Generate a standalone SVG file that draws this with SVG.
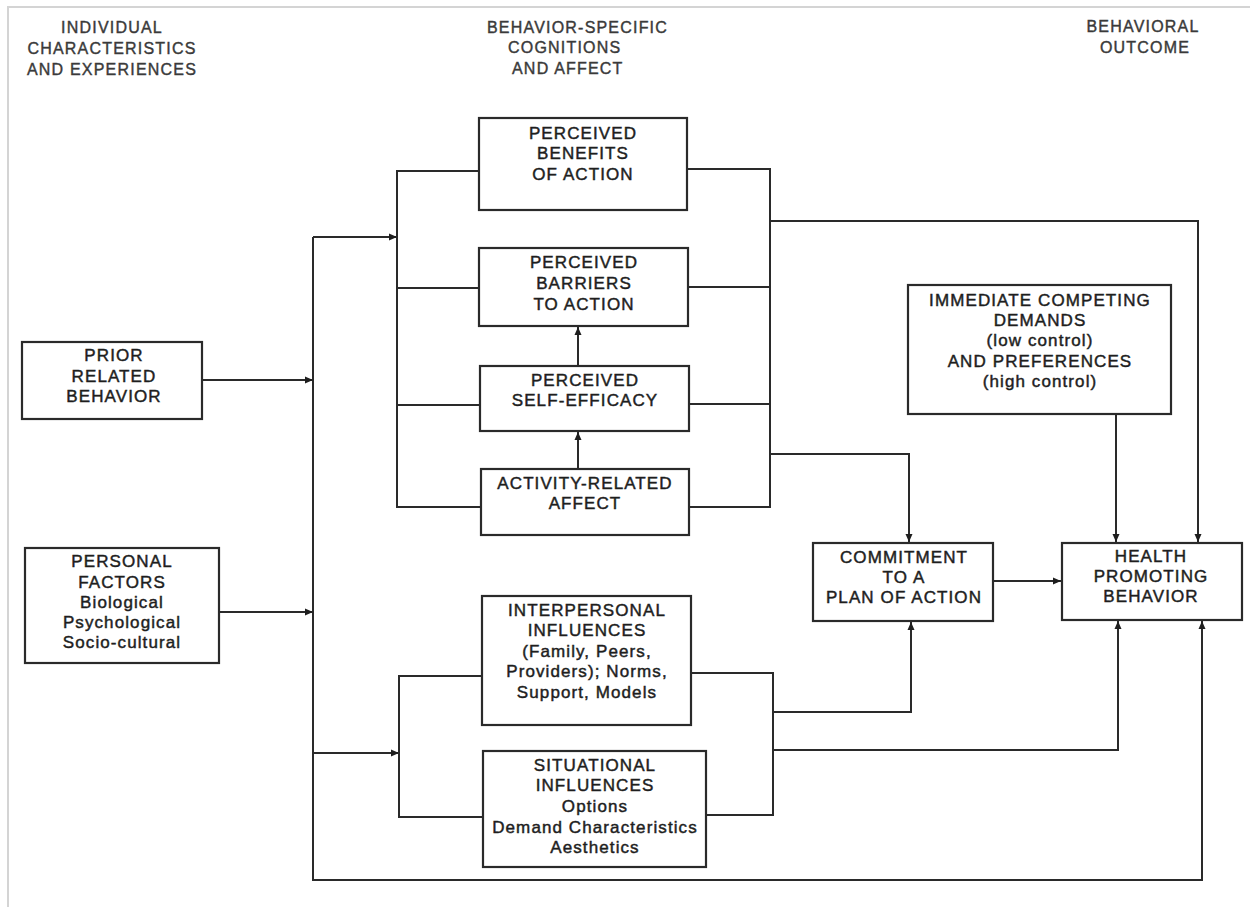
<svg xmlns="http://www.w3.org/2000/svg" width="1250" height="907" viewBox="0 0 1250 907">
<defs>
<marker id="ah" viewBox="0 0 8 8" refX="8" refY="4" markerWidth="8" markerHeight="8" markerUnits="userSpaceOnUse" orient="auto">
<path d="M0,0.5 L8,4 L0,7.5 z" fill="#1e1e1e"/>
</marker>
<style>
.bx{fill:#fff;stroke:#2a2a2a;stroke-width:2.2}
.ln{fill:none;stroke:#2a2a2a;stroke-width:2}
.ar{fill:none;stroke:#2a2a2a;stroke-width:2;marker-end:url(#ah)}
.t{font-family:"Liberation Sans",Arial,sans-serif;font-size:17px;fill:#1e1e1e;stroke:#1e1e1e;stroke-width:0.45;text-anchor:middle;letter-spacing:1.1px}
.h{font-family:"Liberation Sans",Arial,sans-serif;font-size:16px;fill:#3a3a3a;stroke:#3a3a3a;stroke-width:0.4;letter-spacing:1.2px}
.fr{fill:none;stroke:#d4d4d4;stroke-width:2}
</style>
</defs>
<rect width="1250" height="907" fill="#fff"/>
<path class="fr" d="M8,907 L8,7 L1250,7"/>

<g id="headers">
<text class="h" text-anchor="middle" x="112" y="33">INDIVIDUAL</text>
<text class="h" text-anchor="middle" x="112" y="54">CHARACTERISTICS</text>
<text class="h" text-anchor="middle" x="112" y="75">AND EXPERIENCES</text>
<text class="h" x="487" y="33">BEHAVIOR-SPECIFIC</text>
<text class="h" x="508" y="53">COGNITIONS</text>
<text class="h" x="512" y="74">AND AFFECT</text>
<text class="h" text-anchor="middle" x="1143" y="32">BEHAVIORAL</text>
<text class="h" text-anchor="middle" x="1145" y="53">OUTCOME</text>
</g>

<g id="connectors">
<path class="ln" d="M313,237 L313,880 L1202,880 L1202,628"/>
<path class="ar" d="M1202,630 L1202,621"/>
<path class="ar" d="M313,237 L397,237"/>
<path class="ar" d="M202,380 L313,380"/>
<path class="ar" d="M219,612 L313,612"/>
<path class="ar" d="M313,753 L399,753"/>
<path class="ln" d="M479,171 L397,171 L397,507 L481,507"/>
<path class="ln" d="M397,288 L479,288"/>
<path class="ln" d="M397,405 L480,405"/>
<path class="ln" d="M687,169 L770,169 L770,507 L689,507"/>
<path class="ln" d="M688,287 L770,287"/>
<path class="ln" d="M689,404 L770,404"/>
<path class="ar" d="M578,366 L578,327"/>
<path class="ar" d="M578,469 L578,432"/>
<path class="ar" d="M770,221 L1198,221 L1198,542"/>
<path class="ar" d="M770,454 L909,454 L909,542"/>
<path class="ar" d="M1116,414 L1116,542"/>
<path class="ar" d="M993,581 L1061,581"/>
<path class="ln" d="M482,676 L399,676 L399,817 L483,817"/>
<path class="ln" d="M691,673 L773,673 L773,815 L706,815"/>
<path class="ar" d="M773,712 L911,712 L911,622"/>
<path class="ar" d="M773,750 L1118,750 L1118,621"/>
</g>

<g id="node-prior">
<rect class="bx" x="22" y="342" width="180" height="77"/>
<text class="t" x="114" y="361">PRIOR</text>
<text class="t" x="114" y="382">RELATED</text>
<text class="t" x="114" y="402">BEHAVIOR</text>
</g>

<g id="node-personal">
<rect class="bx" x="25" y="548" width="194" height="115"/>
<text class="t" x="122" y="567">PERSONAL</text>
<text class="t" x="122" y="588">FACTORS</text>
<text class="t" x="122" y="608">Biological</text>
<text class="t" x="122" y="628">Psychological</text>
<text class="t" x="122" y="648">Socio-cultural</text>
</g>

<g id="node-benefits">
<rect class="bx" x="479" y="118" width="208" height="92"/>
<text class="t" x="583" y="139">PERCEIVED</text>
<text class="t" x="583" y="159">BENEFITS</text>
<text class="t" x="583" y="180">OF ACTION</text>
</g>

<g id="node-barriers">
<rect class="bx" x="479" y="248" width="209" height="78"/>
<text class="t" x="584" y="268">PERCEIVED</text>
<text class="t" x="584" y="289">BARRIERS</text>
<text class="t" x="584" y="310">TO ACTION</text>
</g>

<g id="node-selfefficacy">
<rect class="bx" x="480" y="366" width="209" height="65"/>
<text class="t" x="585" y="386">PERCEIVED</text>
<text class="t" x="585" y="406">SELF-EFFICACY</text>
</g>

<g id="node-affect">
<rect class="bx" x="481" y="469" width="208" height="66"/>
<text class="t" x="585" y="489">ACTIVITY-RELATED</text>
<text class="t" x="585" y="509">AFFECT</text>
</g>

<g id="node-interpersonal">
<rect class="bx" x="482" y="596" width="209" height="129"/>
<text class="t" x="587" y="616">INTERPERSONAL</text>
<text class="t" x="587" y="636">INFLUENCES</text>
<text class="t" x="587" y="657">(Family, Peers,</text>
<text class="t" x="587" y="677">Providers); Norms,</text>
<text class="t" x="587" y="698">Support, Models</text>
</g>

<g id="node-situational">
<rect class="bx" x="483" y="751" width="223" height="116"/>
<text class="t" x="595" y="771">SITUATIONAL</text>
<text class="t" x="595" y="791">INFLUENCES</text>
<text class="t" x="595" y="812">Options</text>
<text class="t" x="595" y="833">Demand Characteristics</text>
<text class="t" x="595" y="853">Aesthetics</text>
</g>

<g id="node-competing">
<rect class="bx" x="908" y="285" width="263" height="129"/>
<text class="t" x="1040" y="306">IMMEDIATE COMPETING</text>
<text class="t" x="1040" y="326">DEMANDS</text>
<text class="t" x="1040" y="346">(low control)</text>
<text class="t" x="1040" y="367">AND PREFERENCES</text>
<text class="t" x="1040" y="387">(high control)</text>
</g>

<g id="node-commitment">
<rect class="bx" x="813" y="543" width="180" height="78"/>
<text class="t" x="904" y="563">COMMITMENT</text>
<text class="t" x="904" y="583">TO A</text>
<text class="t" x="904" y="603">PLAN OF ACTION</text>
</g>

<g id="node-health">
<rect class="bx" x="1062" y="543" width="180" height="77"/>
<text class="t" x="1151" y="562">HEALTH</text>
<text class="t" x="1151" y="582">PROMOTING</text>
<text class="t" x="1151" y="602">BEHAVIOR</text>
</g>
</svg>
